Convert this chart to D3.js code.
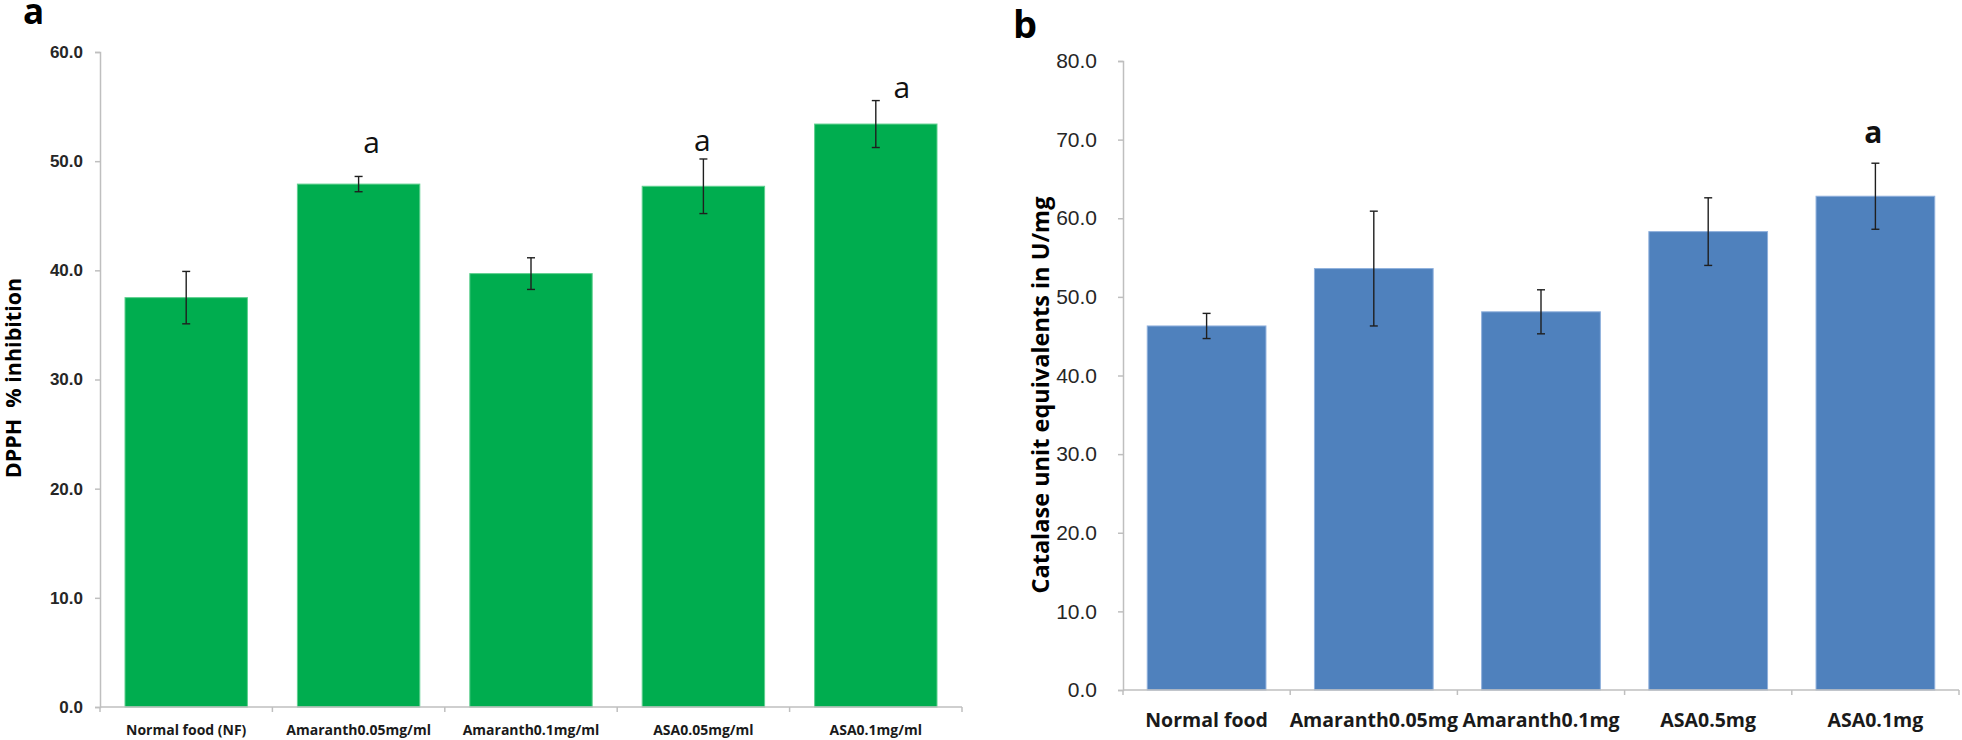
<!DOCTYPE html>
<html>
<head>
<meta charset="utf-8">
<script src="https://cdn.jsdelivr.net/npm/d3@7"></script>
<style>
  body { margin: 0; background: #fff; }
  svg { display: block; font-family: "Open Sans", "Noto Sans", sans-serif; }
</style>
</head>
<body>
<div id="chart"></div>
<script>
const width = 1962;
const height = 740;

// panel a: DPPH
const catsA = ["Normal food (NF)", "Amaranth0.05mg/ml", "Amaranth0.1mg/ml", "ASA0.05mg/ml", "ASA0.1mg/ml"];
const meanA = [37.5, 47.9, 39.7, 47.7, 53.4];
const errA = [2.4, 0.7, 1.45, 2.5, 2.15];
const sigA = ["", "a", "", "a", "a"];
const ticksA = [0, 10, 20, 30, 40, 50, 60];

// panel b: catalase
const catsB = ["Normal food", "Amaranth0.05mg", "Amaranth0.1mg", "ASA0.5mg", "ASA0.1mg"];
const meanB = [46.3, 53.6, 48.1, 58.3, 62.8];
const errB = [1.6, 7.3, 2.8, 4.3, 4.2];
const sigB = ["", "", "", "", "a"];
const ticksB = [0, 10, 20, 30, 40, 50, 60, 70, 80];

const svg = d3.select("#chart").append("svg")
  .attr("width", width)
  .attr("height", height);

function drawPanel(p) {
  const g = svg.append("g");

  const x = d3.scaleBand()
    .domain(p.cats)
    .range([p.left, p.right])
    .paddingInner(0.29)
    .paddingOuter(0.145);

  const y = d3.scaleLinear()
    .domain([0, d3.max(p.ticks)])
    .range([p.bottom, p.top]);

  const rows = p.cats.map((c, i) => ({cat: c, v: p.mean[i], e: p.err[i], s: p.sig[i], i: i}));

  // y axis
  const yAxis = g.append("g")
    .attr("transform", "translate(" + p.left + ",0)")
    .call(d3.axisLeft(y).tickValues(p.ticks).tickFormat(d3.format(".1f")).tickSize(5).tickPadding(p.tickPad));
  yAxis.select(".domain").attr("stroke", "#bfbfbf").attr("stroke-width", 1.5);
  yAxis.selectAll(".tick line").attr("stroke", "#bfbfbf").attr("stroke-width", 1.5);
  yAxis.selectAll(".tick text")
    .attr("fill", "#262626")
    .style("font-size", p.tickFont + "px")
    .style("font-weight", p.tickWeight)
    .style("font-family", "inherit");

  // bars
  g.selectAll("rect.bar")
    .data(rows)
    .enter()
    .append("rect")
    .attr("class", "bar")
    .attr("x", d => x(d.cat))
    .attr("y", d => y(d.v))
    .attr("width", x.bandwidth())
    .attr("height", d => y(0) - y(d.v))
    .attr("fill", p.color)
    .attr("stroke", p.edge)
    .attr("stroke-width", 1);

  // x axis line and boundary ticks
  g.append("line")
    .attr("x1", p.left).attr("x2", p.right)
    .attr("y1", y(0)).attr("y2", y(0))
    .attr("stroke", "#bfbfbf").attr("stroke-width", 1.5);
  const bounds = p.cats.map(c => x(c) - x.step() * 0.145).concat([p.right]);
  g.selectAll("line.xtick")
    .data(bounds)
    .enter()
    .append("line")
    .attr("class", "xtick")
    .attr("x1", d => d).attr("x2", d => d)
    .attr("y1", y(0)).attr("y2", y(0) + 5)
    .attr("stroke", "#bfbfbf").attr("stroke-width", 1.5);

  g.selectAll("text.xlab")
    .data(rows)
    .enter()
    .append("text")
    .attr("class", "xlab")
    .attr("x", d => x(d.cat) + x.bandwidth() / 2)
    .attr("y", p.xLabelY)
    .attr("text-anchor", "middle")
    .attr("fill", "#1a1a1a")
    .style("font-size", p.xFont + "px")
    .style("font-weight", "bold")
    .text(d => d.cat);

  // error bars
  const eb = g.selectAll("g.err")
    .data(rows)
    .enter()
    .append("g")
    .attr("class", "err")
    .attr("stroke", "#1f1f1f")
    .attr("stroke-width", 1.4);
  const cx = d => x(d.cat) + x.bandwidth() / 2;
  eb.append("line")
    .attr("x1", cx).attr("x2", cx)
    .attr("y1", d => y(d.v + d.e)).attr("y2", d => y(d.v - d.e));
  eb.append("line")
    .attr("x1", d => cx(d) - 4).attr("x2", d => cx(d) + 4)
    .attr("y1", d => y(d.v + d.e)).attr("y2", d => y(d.v + d.e));
  eb.append("line")
    .attr("x1", d => cx(d) - 4).attr("x2", d => cx(d) + 4)
    .attr("y1", d => y(d.v - d.e)).attr("y2", d => y(d.v - d.e));

  // significance letters (placed by hand in the original)
  g.selectAll("text.sig")
    .data(rows.filter(d => d.s))
    .enter()
    .append("text")
    .attr("class", "sig")
    .attr("x", d => cx(d) + p.sigOff[d.i][0])
    .attr("y", d => y(d.v + d.e) - p.sigOff[d.i][1])
    .attr("text-anchor", "middle")
    .attr("fill", "#111")
    .style("font-size", p.sigFont + "px")
    .style("font-weight", p.sigWeight)
    .text(d => d.s);

  // y label
  g.append("text")
    .attr("transform", "translate(" + p.yLabelX + "," + p.yLabelY + ") rotate(-90)")
    .attr("text-anchor", "middle")
    .attr("fill", "#000")
    .style("font-size", p.yFont + "px")
    .style("font-weight", "bold")
    .style("white-space", "pre")
    .text(p.ylabel);

  // panel letter
  g.append("text")
    .attr("x", p.letterX)
    .attr("y", p.letterY)
    .attr("fill", "#000")
    .style("font-size", p.letterFont + "px")
    .style("font-weight", "bold")
    .text(p.letter);
}

drawPanel({
  cats: catsA, mean: meanA, err: errA, sig: sigA, ticks: ticksA,
  left: 100, right: 962, top: 52, bottom: 707,
  color: "#00ad4f", edge: "#5fd08f",
  tickFont: 17, tickWeight: "bold", tickPad: 12,
  xFont: 14, xLabelY: 735,
  sigFont: 30, sigWeight: "normal",
  sigOff: [[0, 0], [13, 23], [0, 0], [-1, 8], [26, 3]],
  ylabel: "DPPH  % inhibition", yLabelX: 21, yLabelY: 378, yFont: 21.5,
  letter: "a", letterX: 23, letterY: 24, letterFont: 35
});

drawPanel({
  cats: catsB, mean: meanB, err: errB, sig: sigB, ticks: ticksB,
  left: 1123, right: 1959, top: 61, bottom: 690,
  color: "#4f81bd", edge: "#8fb0dc",
  tickFont: 21, tickWeight: "normal", tickPad: 21,
  xFont: 19.5, xLabelY: 727,
  sigFont: 30, sigWeight: "bold",
  sigOff: [[0, 0], [0, 0], [0, 0], [0, 0], [-2, 20]],
  ylabel: "Catalase unit equivalents in U/mg", yLabelX: 1049, yLabelY: 395, yFont: 23.5,
  letter: "b", letterX: 1013, letterY: 38, letterFont: 38
});
</script>
</body>
</html>
